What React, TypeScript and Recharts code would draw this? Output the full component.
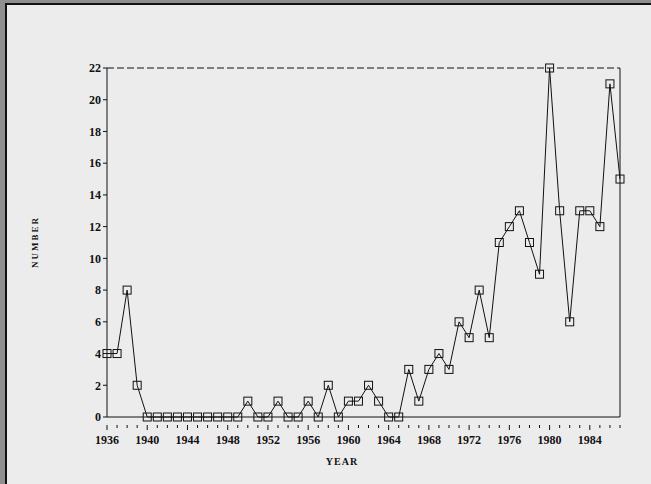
import React from "react";
import {
  LineChart,
  Line,
  XAxis,
  YAxis,
  ReferenceLine,
  Label,
} from "recharts";

const YEARS = [
  1936, 1937, 1938, 1939, 1940, 1941, 1942, 1943, 1944, 1945, 1946, 1947, 1948,
  1949, 1950, 1951, 1952, 1953, 1954, 1955, 1956, 1957, 1958, 1959, 1960, 1961,
  1962, 1963, 1964, 1965, 1966, 1967, 1968, 1969, 1970, 1971, 1972, 1973, 1974,
  1975, 1976, 1977, 1978, 1979, 1980, 1981, 1982, 1983, 1984, 1985, 1986, 1987,
];
const COUNTS = [
  4, 4, 8, 2, 0, 0, 0, 0, 0, 0, 0, 0, 0, 0, 1, 0, 0, 1, 0, 0, 1, 0, 2, 0, 1, 1,
  2, 1, 0, 0, 3, 1, 3, 4, 3, 6, 5, 8, 5, 11, 12, 13, 11, 9, 22, 13, 6, 13, 13,
  12, 21, 15,
];
const X_LABELS = [1936, 1940, 1944, 1948, 1952, 1956, 1960, 1964, 1968, 1972, 1976, 1980, 1984];
const Y_TICKS = [0, 2, 4, 6, 8, 10, 12, 14, 16, 18, 20, 22];

const data = YEARS.map((year, i) => ({ year, count: COUNTS[i] }));

const FONT = "'Liberation Serif', 'DejaVu Serif', serif";

const SquareDot = (props: any) => {
  const { cx, cy, index } = props;
  if (cx == null || cy == null) return null;
  return (
    <rect
      key={`dot-${index}`}
      x={cx - 4}
      y={cy - 4}
      width={8}
      height={8}
      fill="none"
      stroke="#111"
      strokeWidth={1}
    />
  );
};

const YearTick = (props: any) => {
  const { x, y, payload } = props;
  const major = X_LABELS.includes(payload.value);
  return (
    <g>
      <line x1={x} y1={y} x2={x} y2={y + (major ? 5 : 3)} stroke="#111" />
      {major && (
        <text
          x={x}
          y={y + 19}
          textAnchor="middle"
          fontFamily={FONT}
          fontSize={12}
          fontWeight="bold"
          fill="#111"
        >
          {payload.value}
        </text>
      )}
    </g>
  );
};

export default function App() {
  return (
    <div
      style={{
        position: "fixed",
        left: 0,
        top: 0,
        width: 651,
        height: 484,
        background: "#8f8f8f",
        overflow: "hidden",
      }}
    >
      <div
        style={{
          position: "absolute",
          left: 5,
          top: 3,
          right: 0,
          bottom: 0,
          borderLeft: "2px solid #111",
          borderTop: "2px solid #111",
          background: "#ececec",
        }}
      />
      <div style={{ position: "absolute", left: 0, top: 0 }}>
        <LineChart
          width={651}
          height={484}
          data={data}
          margin={{ top: 68, right: 31, left: 0, bottom: 0 }}
        >
          <XAxis
            dataKey="year"
            type="number"
            domain={[1936, 1987]}
            ticks={YEARS}
            interval={0}
            height={67}
            tick={<YearTick />}
            tickLine={false}
            axisLine={{ stroke: "#111" }}
          >
            <Label
              content={() => (
                <text
                  x={342}
                  y={465}
                  textAnchor="middle"
                  fontFamily={FONT}
                  fontSize={10}
                  fontWeight="bold"
                  letterSpacing={1}
                  fill="#111"
                >
                  YEAR
                </text>
              )}
            />
          </XAxis>
          <YAxis
            domain={[0, 22]}
            ticks={Y_TICKS}
            interval={0}
            width={107}
            tickSize={4}
            tickLine={{ stroke: "#111" }}
            axisLine={{ stroke: "#111" }}
            tick={{ fontFamily: FONT, fontSize: 12, fontWeight: "bold", fill: "#111" }}
          >
            <Label
              content={() => (
                <text
                  x={38}
                  y={242}
                  textAnchor="middle"
                  transform="rotate(-90 38 242)"
                  fontFamily={FONT}
                  fontSize={9}
                  fontWeight="bold"
                  letterSpacing={2}
                  fill="#111"
                >
                  NUMBER
                </text>
              )}
            />
          </YAxis>
          <ReferenceLine y={22} stroke="#111" strokeDasharray="7 3" />
          <ReferenceLine x={1987} stroke="#111" />
          <Line
            dataKey="count"
            stroke="#111"
            strokeWidth={1}
            dot={<SquareDot />}
            isAnimationActive={false}
          />
        </LineChart>
      </div>
    </div>
  );
}
